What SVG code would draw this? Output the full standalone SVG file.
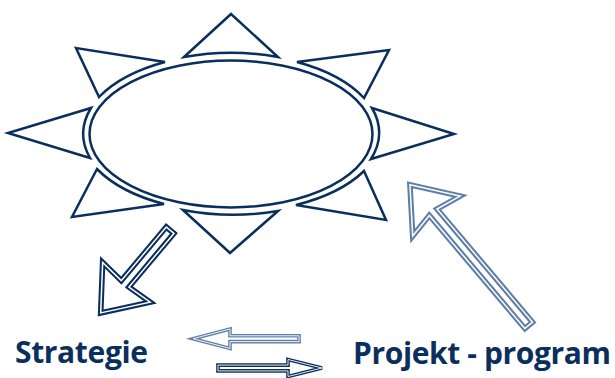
<svg xmlns="http://www.w3.org/2000/svg" width="615" height="378" viewBox="0 0 615 378">
  <style>
    .ray { fill: #fff; stroke: #0b2f5c; stroke-width: 2.5; stroke-linejoin: miter; }
    .core { fill: #fff; stroke: #0b2f5c; stroke-width: 2.5; }
    .label { font-family: "Open Sans", "Noto Sans", "DejaVu Sans", sans-serif; font-weight: 700; font-size: 30px; fill: #0b2f5c; }
    .dk-o { fill: #fff; stroke: #0b2f5c; stroke-width: 5.6; stroke-linejoin: miter; }
    .lt-o { fill: #fff; stroke: #5f7fa8; stroke-width: 5.6; stroke-linejoin: miter; }
    .gap { fill: none; stroke: #fff; stroke-width: 1.5; stroke-linejoin: miter; }
    .dk-s { fill: #fff; stroke: #0b2f5c; stroke-width: 3.6; stroke-linejoin: miter; }
    .lt-s { fill: #fff; stroke: #5f7fa8; stroke-width: 3.6; stroke-linejoin: miter; }
    .gap-s { fill: none; stroke: #fff; stroke-width: 0.9; stroke-linejoin: miter; }
  </style>
  <defs>
    <!-- block arrow outlines, tail at origin, pointing along +x -->
    <path id="arrowShort" d="M0,-5 L70,-5 L68,-31 L108,0 L68,31 L70,5 L0,5 Z"/>
    <path id="arrowLong" d="M0,-5 L148,-5 L143,-31 L184,0 L143,31 L148,5 L0,5 Z"/>
    <path id="arrowLeft" d="M299,335.8 L230,335.8 L230,329 L193,338.7 L230,348.5 L230,341.6 L299,341.6 Z"/>
    <path id="arrowRight" d="M218,365.1 L288,365.1 L288,359.5 L322,368 L288,376.5 L288,370.9 L218,370.9 Z"/>
  </defs>

  <!-- sun: eight rays around an elliptical core -->
  <g id="sun">
    <path class="ray" d="M184,57 L231,14 L278,57 A149.5,81.5 0 0 0 184,57 Z"/>
    <path class="ray" d="M297,62 L389,50 L364,98 A149.5,81.5 0 0 0 297,62 Z"/>
    <path class="ray" d="M372,108 L454,134 L371,159 A149.5,81.5 0 0 0 372,108 Z"/>
    <path class="ray" d="M364,171 L386,220 L296,205 A149.5,81.5 0 0 0 364,171 Z"/>
    <path class="ray" d="M278,211 L230,253 L183,210 A149.5,81.5 0 0 0 278,211 Z"/>
    <path class="ray" d="M164,204 L72,217 L97,169 A149.5,81.5 0 0 0 164,204 Z"/>
    <path class="ray" d="M90,158 L8,133 L91,108 A149.5,81.5 0 0 0 90,158 Z"/>
    <path class="ray" d="M99,97 L76,48 L165,62 A149.5,81.5 0 0 0 99,97 Z"/>
    <ellipse class="core" cx="231" cy="134" rx="141.5" ry="73.5"/>
  </g>

  <g id="strategie">
    <text class="label" x="15" y="363" textLength="133" lengthAdjust="spacing">Strategie</text>
  </g>

  <g id="projekt-program">
    <text class="label" x="353" y="364" textLength="258" lengthAdjust="spacing">Projekt - program</text>
  </g>

  <!-- connectors: double-outlined block arrows -->
  <g id="connectors">
    <g transform="translate(170.1,230.2) rotate(130)">
      <use href="#arrowShort" class="dk-o"/>
      <use href="#arrowShort" class="gap"/>
    </g>
    <g transform="translate(528.7,325.3) rotate(-130.2)">
      <use href="#arrowLong" class="lt-o"/>
      <use href="#arrowLong" class="gap"/>
    </g>
    <use href="#arrowLeft" class="lt-s"/>
    <use href="#arrowLeft" class="gap-s"/>
    <use href="#arrowRight" class="dk-s"/>
    <use href="#arrowRight" class="gap-s"/>
  </g>
</svg>
